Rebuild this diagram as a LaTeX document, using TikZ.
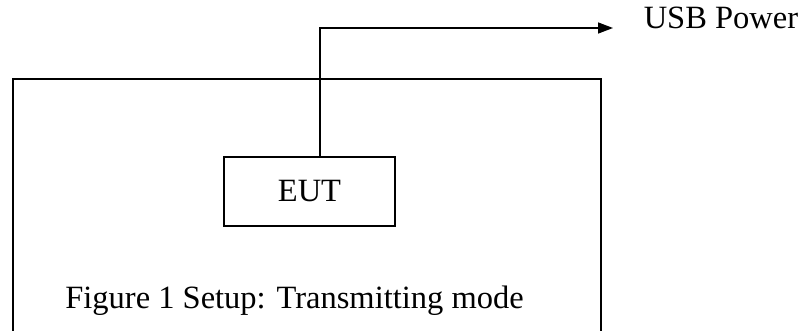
\documentclass[tikz,border=0pt]{standalone}
\usepackage{fontspec}
\setmainfont{Liberation Serif}
\usetikzlibrary{arrows.meta}
\begin{document}
\begin{tikzpicture}[x=1pt, y=-1pt, line width=1.5pt,
        every node/.style={font=\fontsize{32.5}{38}\selectfont, inner sep=0pt}]
        \useasboundingbox (0, 0) rectangle (800, 331);
        % Draw the outer frame (open at the bottom)
        \draw (13, 331) -- (13, 79) -- (601, 79) -- (601, 331);

        % Draw the EUT box
        \node[draw, minimum width=171pt, minimum height=69pt] (eut) at (309.5, 191.5) {EUT};

        % Labels
        \node[anchor=base west] (usb) at (643, 29) {USB Power};
        \node[anchor=base] (caption) at (294.5, 308) {Figure 1 Setup: Transmitting mode};
        \coordinate (usbend) at (613, 28);

        % Draw the power cable
        \draw[-{Triangle[length=15pt, width=11pt]}] ([xshift=10.5pt]eut.north) |- (usbend);
    \end{tikzpicture}
\end{document}
